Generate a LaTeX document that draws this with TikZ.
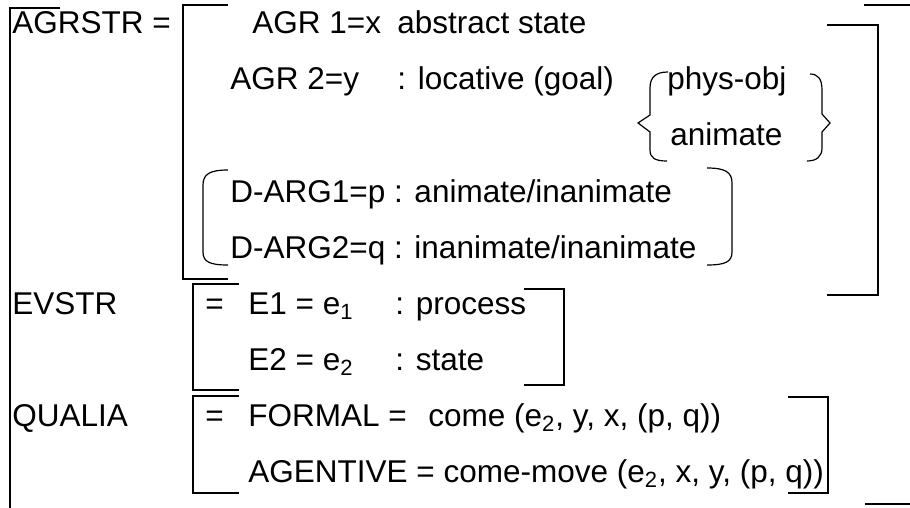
\documentclass[tikz,border=0pt]{standalone}
\usepackage{fontspec}
\setmainfont{Liberation Sans}

\begin{document}
\begin{tikzpicture}[
    x=0.5pt, y=-0.5pt,
    txt/.style={anchor=base west, inner sep=0pt, font=\fontsize{15.75}{18}\selectfont},
    brk/.style={line width=1pt},
    curly/.style={line width=0.6pt}
  ]
    \useasboundingbox (0,0) rectangle (910,508);

    % feature names and values
    \node[txt] (agrstr) at (12,34) {AGRSTR =};
    \node[txt] (agr1) at (252,34) {AGR 1=x};
    \node[txt] (abst) at (397,34) {abstract state};
    \node[txt] (agr2) at (230,90) {AGR 2=y};
    \node[txt] (loc) at (397,90) {: locative (goal)};
    \node[txt] (phys) at (667,90) {phys-obj};
    \node[txt] (anim) at (670,146) {animate};
    \node[txt] (darg1) at (230,202) {D-ARG1=p : animate/inanimate};
    \node[txt] (darg2) at (230,258) {D-ARG2=q : inanimate/inanimate};
    \node[txt] (evstr) at (12,314) {EVSTR};
    \node[txt] (eveq) at (205,314) {=};
    \node[txt] (e1) at (248,314) {E1 = e\textsubscript{1}};
    \node[txt] (proc) at (395,314) {: process};
    \node[txt] (e2) at (248,370) {E2 = e\textsubscript{2}};
    \node[txt] (stat) at (395,370) {: state};
    \node[txt] (qualia) at (12,426) {QUALIA};
    \node[txt] (queq) at (205,426) {=};
    \node[txt] (formal) at (248,426) {FORMAL =};
    \node[txt] (come) at (428,426) {come (e\textsubscript{2}, y, x, (p, q))};
    \node[txt] (agent) at (248,482) {AGENTIVE = come-move (e\textsubscript{2}, x, y, (p, q))};

    % outer brackets
    \draw[brk] (60,8) -- (10,8) -- (10,510);
    \draw[brk] (864,5) -- (913,5) -- (913,504) -- (865,504);

    % AGRSTR brackets
    \draw[brk] (228,5) -- (183,5) -- (183,279) -- (228,279);
    \draw[brk] (827,25) -- (878,25) -- (878,295) -- (827,295);

    % D-ARG brackets
    \draw[curly] (228,170) .. controls (210,170) and (203,174) .. (203,185)
      -- (203,252) .. controls (203,262) and (210,265) .. (228,265);
    \draw[curly] (707,168) .. controls (725,168) and (732,172) .. (732,183)
      -- (732,252) .. controls (732,262) and (725,265) .. (707,265);

    % braces round phys-obj / animate
    \draw[curly] (668,72) .. controls (656,72) and (650,77) .. (650,88)
      -- (650,115) -- (638,123) -- (650,132) -- (650,150)
      .. controls (650,158) and (655,161) .. (667,161);
    \draw[curly] (810,74) .. controls (818,74) and (822,79) .. (822,90)
      -- (822,114) -- (830,123) -- (822,132) -- (822,148)
      .. controls (822,157) and (816,161) .. (807,161);

    % EVSTR brackets
    \draw[brk] (239,284) -- (193,284) -- (193,390) -- (239,390);
    \draw[brk] (524,289) -- (564,289) -- (564,385) -- (524,385);

    % QUALIA brackets
    \draw[brk] (239,396) -- (193,396) -- (193,493) -- (239,493);
    \draw[brk] (788,397) -- (828,397) -- (828,493) -- (788,493);
  \end{tikzpicture}
\end{document}
